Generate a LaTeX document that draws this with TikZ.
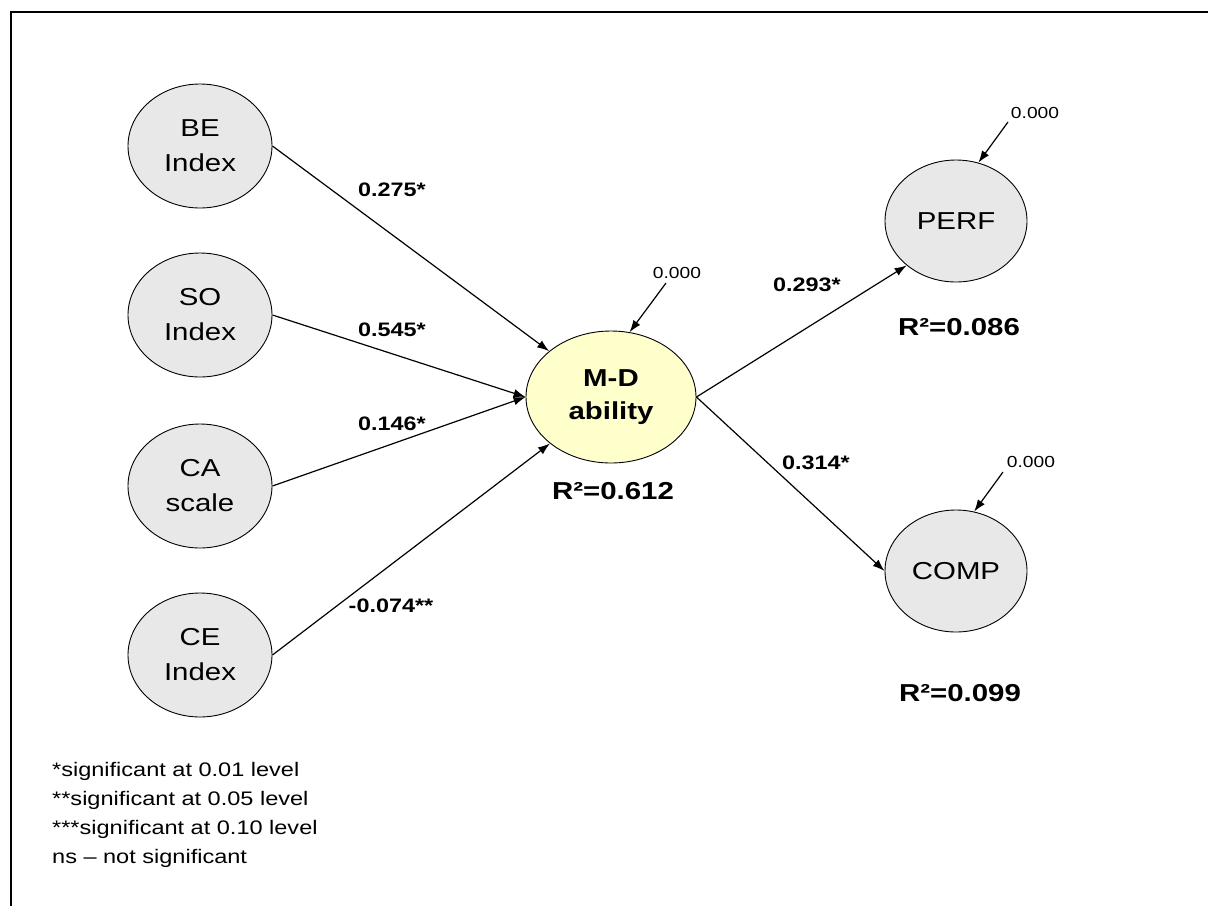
\documentclass[tikz,border=0pt]{standalone}
\usepackage{fontspec}
\setmainfont{Liberation Sans}[FakeStretch=1.2]
\usetikzlibrary{shapes.geometric,arrows.meta}
\definecolor{latentgray}{RGB}{232,232,232}
\definecolor{focusyellow}{RGB}{255,255,204}
\tikzset{
  latent/.style={ellipse, draw=black, line width=0.9pt, fill=latentgray,
    minimum width=144, minimum height=124, inner sep=0pt, align=center,
    font=\fontsize{24.5}{35}\selectfont},
  focal/.style={latent, fill=focusyellow, minimum width=170, minimum height=132,
    font=\bfseries\fontsize{24.5}{33}\selectfont},
  path/.style={line width=1.2pt, -{Latex[length=12pt,width=8.5pt]}},
  coef/.style={font=\bfseries\fontsize{19.5}{22}\selectfont},
  rsq/.style={font=\bfseries\fontsize{24.5}{28}\selectfont},
  resid/.style={font=\fontsize{16}{18}\selectfont},
}
\begin{document}
\begin{tikzpicture}[x=1pt, y=-1pt]
\useasboundingbox (0,0) rectangle (1208,906);
% open frame: top and left edges
\draw[line width=2pt] (11,906) -- (11,12) -- (1208,12);

% latent variables
\node[latent] (be) at (200,146) {BE\\Index};
\node[latent] (so) at (200,315) {SO\\Index};
\node[latent] (ca) at (200,486) {CA\\scale};
\node[latent] (ce) at (200,655) {CE\\Index};
\node[focal]  (md) at (611,397) {M-D\\ability};
\node[latent, minimum width=142, minimum height=122] (perf) at (956,221) {PERF};
\node[latent, minimum width=142, minimum height=122] (comp) at (956,571) {COMP};

% structural paths
\draw[path] (be.east) -- (md);
\draw[path] (so.east) -- (md.west);
\draw[path] (ca.east) -- (md.west);
\draw[path] (ce.east) -- (md);
\draw[path] (md.east) -- (perf.222);
\draw[path] (md.east) -- (comp.west);

% path coefficients
\node[coef] (c1) at (392,190) {0.275*};
\node[coef] (c2) at (392,330) {0.545*};
\node[coef] (c3) at (392,424) {0.146*};
\node[coef] (c4) at (391,606) {-0.074**};
\node[coef] (c5) at (807,285) {0.293*};
\node[coef] (c6) at (816,463) {0.314*};

% explained variance
\node[rsq] (r1) at (613,491) {R²=0.612};
\node[rsq] (r2) at (959,327) {R²=0.086};
\node[rsq] (r3) at (960,693) {R²=0.099};

% residual terms
\node[resid] (emdl) at (677,273) {0.000};
\node[resid] (eprl) at (1035,113) {0.000};
\node[resid] (ecol) at (1031,462) {0.000};
\coordinate (emd) at (666,283);
\coordinate (epr) at (1008,122);
\coordinate (eco) at (1003,472);
\draw[path] (emd) -- (md.74);
\draw[path] (epr) -- (perf.69);
\draw[path] (eco) -- (comp.73);

% significance legend
\node[anchor=north west, align=left, inner sep=0pt,
      font=\fontsize{19.6}{29}\selectfont] (legend) at (52,762)
  {*significant at 0.01 level\\
   **significant at 0.05 level\\
   ***significant at 0.10 level\\
   ns – not significant};
\end{tikzpicture}
\end{document}
